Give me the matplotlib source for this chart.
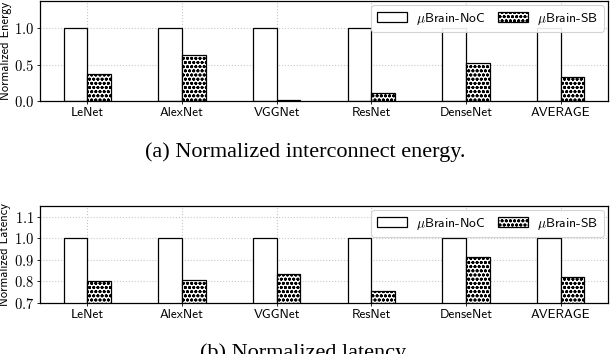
import numpy as np
import matplotlib
matplotlib.use("Agg")
import matplotlib.pyplot as plt

# Daten
kategorien = ["LeNet", "AlexNet", "VGGNet", "ResNet", "DenseNet", "AVERAGE"]
energie_noc = [1.0, 1.0, 1.0, 1.0, 1.0, 1.0]
energie_sb = [0.37, 0.63, 0.02, 0.11, 0.52, 0.33]
latenz_noc = [1.0, 1.0, 1.0, 1.0, 1.0, 1.0]
latenz_sb = [0.80, 0.805, 0.835, 0.757, 0.913, 0.822]

plt.rcParams["mathtext.fontset"] = "cm"
plt.rcParams["axes.formatter.use_mathtext"] = True
plt.rcParams["hatch.linewidth"] = 0.9

fig = plt.figure(figsize=(6.1, 3.54), dpi=100)
ax1 = fig.add_axes([40 / 610, 253 / 354, 568 / 610, 100 / 354])
ax2 = fig.add_axes([40 / 610, 51 / 354, 568 / 610, 97 / 354])

x = np.arange(len(kategorien))
breite = 0.25


def zeichne(ax, noc, sb, ylim, yticks, ylabel):
    ax.set_axisbelow(True)
    ax.grid(True, linestyle=":", color="#c8c8c8", linewidth=0.8)
    ax.bar(x - breite / 2, noc, breite, color="white", edgecolor="black",
           linewidth=0.9, label=r"$\mu$Brain-NoC")
    ax.bar(x + breite / 2, sb, breite, color="white", edgecolor="black",
           linewidth=0.9, hatch="oooo", label=r"$\mu$Brain-SB")
    ax.set_xlim(-0.5, 5.5)
    ax.set_ylim(*ylim)
    ax.set_yticks(yticks)
    ax.set_yticklabels([r"$%.1f$" % v for v in yticks], fontsize=10.5)
    ax.set_xticks(x)
    ax.set_xticklabels(kategorien, family="cmss10", fontsize=9.5)
    ax.tick_params(length=2, width=0.6, pad=2)
    ax.set_ylabel(ylabel, family="cmss10", fontsize=9, labelpad=2)
    for s in ax.spines.values():
        s.set_linewidth(0.9)
    leg = ax.legend(loc="upper right", ncol=2,
                    prop={"family": "cmss10", "size": 9.8},
                    handlelength=2.2, handletextpad=0.7, columnspacing=0.9,
                    borderpad=0.4, fancybox=True, framealpha=0.9,
                    edgecolor="#d0d0d0", borderaxespad=0.3)
    leg.get_frame().set_linewidth(0.8)


zeichne(ax1, energie_noc, energie_sb, (0, 1.37), [0.0, 0.5, 1.0], "Normalized Energy")
zeichne(ax2, latenz_noc, latenz_sb, (0.7, 1.15), [0.7, 0.8, 0.9, 1.0, 1.1], "Normalized Latency")

fig.text(0.5, 1 - 152 / 354, "(a) Normalized interconnect energy.",
         family="Liberation Serif", fontsize=16, ha="center", va="center")
fig.text(0.5, 1 - 353 / 354, "(b) Normalized latency.",
         family="Liberation Serif", fontsize=16, ha="center", va="center")

fig.savefig("out.png", dpi=100)
